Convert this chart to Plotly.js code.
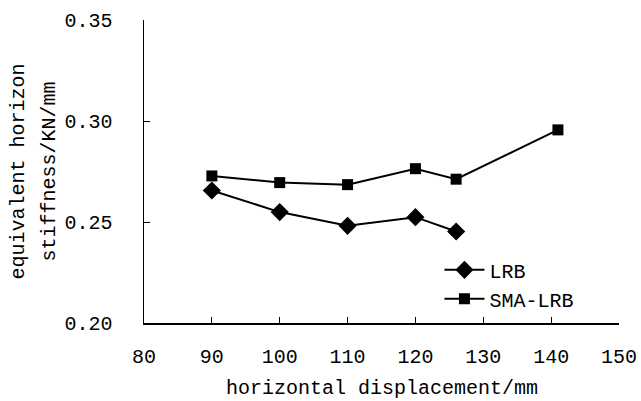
<!DOCTYPE html>
<html>
<head>
<meta charset="utf-8">
<script src="https://cdn.plot.ly/plotly-3.0.1.min.js"></script>
<style>body{margin:0;padding:0;background:#fff;}#chart{width:641px;height:401px;}</style>
</head>
<body>
<div id="chart"></div>
<script>
const lrbX = [90, 100, 110, 120, 126];
const lrbY = [0.2656, 0.2549, 0.2481, 0.2524, 0.2453];
const smaX = [90, 100, 110, 120, 126, 141];
const smaY = [0.2728, 0.2695, 0.2685, 0.2764, 0.2712, 0.2956];
const xTicks = [80, 90, 100, 110, 120, 130, 140, 150];
const yTicks = [0.20, 0.25, 0.30, 0.35];
const yTickText = ['0.20', '0.25', '0.30', '0.35'];
const xTitle = 'horizontal displacement/mm';
const yTitleLines = ['equivalent horizon', 'stiffness/KN/mm'];

const FONT = 'Liberation Mono, DejaVu Sans Mono, monospace';

const traces = [
  {x: lrbX, y: lrbY, name: 'LRB', type: 'scatter', mode: 'lines+markers',
   line: {color: '#000', width: 2}, marker: {symbol: 'diamond', size: 14, color: '#000'}},
  {x: smaX, y: smaY, name: 'SMA-LRB', type: 'scatter', mode: 'lines+markers',
   line: {color: '#000', width: 2}, marker: {symbol: 'square', size: 11, color: '#000'}}
];

const layout = {
  width: 641, height: 401,
  margin: {l: 144, r: 22, t: 20, b: 78},
  paper_bgcolor: '#fff', plot_bgcolor: '#fff',
  font: {family: FONT, size: 20, color: '#000'},
  showlegend: true,
  legend: {x: 0.622, xanchor: 'left', y: 0.24, yanchor: 'top', bgcolor: 'rgba(0,0,0,0)',
           itemwidth: 40,
           font: {family: FONT, size: 20, color: '#000'}, tracegroupgap: 0},
  xaxis: {
    range: [80, 150], tickvals: xTicks, ticktext: xTicks.map(String),
    ticks: 'inside', ticklen: 6, tickcolor: '#000', tickwidth: 1,
    showline: true, linecolor: '#000', linewidth: 1.5, showgrid: false, zeroline: false,
    ticklabelstandoff: 14
  },
  yaxis: {
    range: [0.20, 0.35], tickvals: yTicks, ticktext: yTickText,
    ticks: 'inside', ticklen: 6, tickcolor: '#000', tickwidth: 1,
    showline: true, linecolor: '#000', linewidth: 1.5, showgrid: false, zeroline: false,
    ticklabelstandoff: 26
  },
  annotations: [
    {text: xTitle, xref: 'paper', yref: 'paper', x: 0.5, y: 0, xanchor: 'center', yanchor: 'middle',
     yshift: -65, showarrow: false, font: {family: FONT, size: 20, color: '#000'}},
    {text: yTitleLines[0], xref: 'paper', yref: 'paper', x: 0, y: 0.5, xanchor: 'center', yanchor: 'middle',
     xshift: -126, textangle: -90, showarrow: false, font: {family: FONT, size: 20, color: '#000'}},
    {text: yTitleLines[1], xref: 'paper', yref: 'paper', x: 0, y: 0.5, xanchor: 'center', yanchor: 'middle',
     xshift: -95, textangle: -90, showarrow: false, font: {family: FONT, size: 20, color: '#000'}}
  ]
};

Plotly.newPlot('chart', traces, layout, {displayModeBar: false, staticPlot: true});
</script>
</body>
</html>
